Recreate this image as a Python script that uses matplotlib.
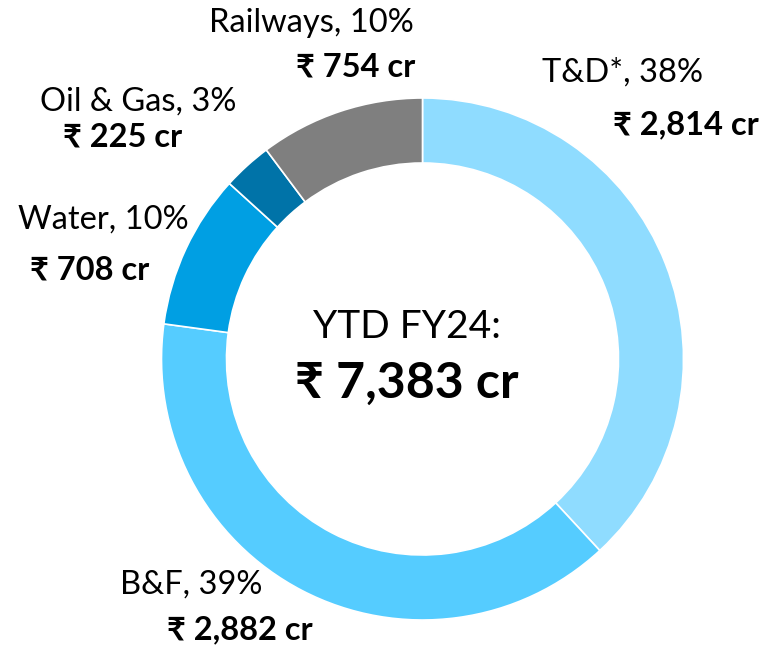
"""Order inflow split by segment, YTD FY24 donut."""

import matplotlib.pyplot as plt

segments = ["T&D*", "B&F", "Water", "Oil & Gas", "Railways"]
values_cr = [2814, 2882, 708, 225, 754]
percents = [38, 39, 10, 3, 10]
total_cr = 7383
colors = ["#8FDCFF", "#55CCFF", "#009FE3", "#0073A8", "#7F7F7F"]

FONT = ["Lato", "Noto Sans", "DejaVu Sans"]

# label placement in pixel coords: x/y of the name line, x/y of the value line
label_pos = {
    "T&D*": (622, 73, 686, 125),
    "B&F": (191, 585, 240, 630),
    "Water": (103, 220, 90, 270),
    "Oil & Gas": (138, 102, 123, 137),
    "Railways": (311, 23, 356, 67),
}

W, H = 763, 647
fig = plt.figure(figsize=(W / 100, H / 100), dpi=100)
ax = fig.add_axes([0, 0, 1, 1])

cx, cy, r = 422.5, 359, 261
# y axis is flipped below, so "counterclock" in data reads clockwise on screen
ax.pie(
    values_cr,
    colors=colors,
    startangle=-90,
    counterclock=True,
    radius=r,
    center=(cx, cy),
    wedgeprops=dict(width=65, edgecolor="white", linewidth=1.2),
    frame=True,
)
ax.set_xlim(0, W)
ax.set_ylim(H, 0)
ax.set_aspect("equal")
ax.axis("off")

for name, val, pct in zip(segments, values_cr, percents):
    x1, y1, x2, y2 = label_pos[name]
    ax.text(x1, y1, f"{name}, {pct}%", ha="center", va="center",
            fontsize=23.5, family=FONT, color="black")
    ax.text(x2, y2, f"₹ {val:,} cr", ha="center", va="center",
            fontsize=23.5, family=FONT, fontweight="bold", color="black")

ax.text(407, 327, "YTD FY24:", ha="center", va="center",
        fontsize=28, family=FONT, color="black")
ax.text(407, 383, f"₹ {total_cr:,} cr", ha="center", va="center",
        fontsize=36, family=FONT, fontweight="bold", color="black")

fig.savefig("out.png", dpi=100)
